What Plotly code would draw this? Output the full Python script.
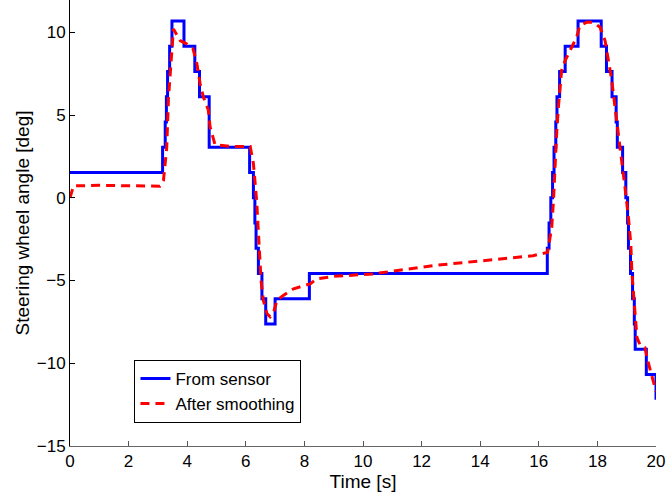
import plotly.graph_objects as go

# Raw steering-wheel sensor signal (quantised steps) -- time [s], angle [deg]
sensor_t = [0.00, 3.16, 3.25, 3.29, 3.33, 3.40, 3.48, 3.89, 4.26, 4.42, 4.75,
            6.13, 6.26, 6.31, 6.35, 6.43, 6.55, 6.68, 7.00, 8.17,
            16.29, 16.35, 16.41, 16.47, 16.52, 16.58, 16.62, 16.71, 16.90, 17.34,
            18.13, 18.31, 18.50, 18.64, 18.68, 18.86, 18.97, 19.03, 19.06, 19.13,
            19.20, 19.26, 19.29, 19.67, 20.00]
sensor_deg = [1.53, 3.05, 4.58, 6.10, 7.63, 9.15, 10.68, 9.15, 7.63, 6.10, 3.05,
              1.53, 0.00, -1.53, -3.05, -4.58, -6.10, -7.63, -6.10, -4.58,
              -3.05, -1.53, 0.00, 1.53, 3.05, 4.58, 6.10, 7.63, 9.15, 10.68,
              9.15, 7.63, 6.10, 4.58, 3.05, 1.53, 0.00, -1.53, -3.05, -4.58,
              -6.10, -7.63, -9.15, -10.68, -12.20]

# Smoothed signal
smooth_t = [0.00, 0.12, 1.00, 2.00, 3.00, 3.07, 3.19, 3.30, 3.36, 3.44, 3.49, 3.53,
            3.76, 3.98, 4.20, 4.33, 4.44, 4.55, 4.72, 4.78, 4.95, 5.50, 6.15,
            6.26, 6.37, 6.45, 6.52, 6.60, 6.72, 6.83, 6.94, 7.06, 7.28, 7.63,
            8.20, 8.42, 9.00, 10.35, 12.40, 14.10, 15.80, 16.30, 16.44, 16.50,
            16.55, 16.61, 16.67, 16.72, 16.78, 16.90, 17.07, 17.29, 17.40, 17.63,
            17.86, 18.09, 18.26, 18.37, 18.49, 18.60, 18.72, 18.83, 18.94, 19.06,
            19.14, 19.18, 19.26, 19.35, 19.47, 19.62, 19.75, 19.86, 19.98, 20.00]
smooth_deg = [0.00, 0.72, 0.75, 0.74, 0.72, 0.70, 1.05, 3.00, 6.00, 7.90, 9.70, 10.20,
              9.50, 9.30, 9.00, 8.10, 6.90, 6.10, 5.30, 4.30, 3.20, 3.10, 3.10,
              2.06, -0.16, -2.50, -5.00, -6.20, -7.00, -7.20, -7.00, -6.20, -5.90, -5.50,
              -5.20, -4.90, -4.75, -4.60, -4.10, -3.80, -3.50, -3.30, -1.80, -0.20,
              1.85, 3.90, 5.50, 6.50, 7.70, 8.30, 8.90, 9.70, 10.40, 10.60,
              10.60, 10.30, 9.50, 8.30, 7.10, 5.50, 3.90, 2.30, 0.64, -1.20,
              -2.80, -4.60, -6.60, -8.45, -8.95, -9.05, -10.06, -10.80, -11.50, -11.70]

x_ticks = [0, 2, 4, 6, 8, 10, 12, 14, 16, 18, 20]
y_ticks = [-15, -10, -5, 0, 5, 10]

FONT = "Liberation Sans, Arial, Helvetica, sans-serif"
TICK_SIZE = 17
TITLE_SIZE = 19

fig = go.Figure()
fig.add_trace(go.Scatter(
    x=sensor_t, y=sensor_deg, mode="lines", name="From sensor",
    line=dict(color="#0000ff", width=3, shape="hv"),
))
fig.add_trace(go.Scatter(
    x=smooth_t, y=smooth_deg, mode="lines", name="After smoothing",
    line=dict(color="#ff0000", width=3, dash="9px,6px"),
))

fig.update_layout(
    width=666, height=500,
    margin=dict(l=70, r=10, t=0, b=54),
    paper_bgcolor="white", plot_bgcolor="white",
    font=dict(family=FONT, size=TICK_SIZE, color="black"),
    showlegend=True,
    legend=dict(
        x=0.11, y=0.193, xanchor="left", yanchor="top",
        bgcolor="white", bordercolor="black", borderwidth=1,
        font=dict(family=FONT, size=TICK_SIZE, color="black"),
        tracegroupgap=0,
    ),
    xaxis=dict(
        range=[0, 20], tickvals=x_ticks, ticks="inside", ticklen=5,
        tickcolor="#555555", showline=True, linecolor="#666666", linewidth=1,
        showgrid=False, zeroline=False,
        tickfont=dict(family=FONT, size=TICK_SIZE, color="black"),
        title=dict(text="Time [s]", font=dict(family=FONT, size=TITLE_SIZE, color="black"),
                   standoff=2),
    ),
    yaxis=dict(
        range=[-15, 11.95], tickvals=y_ticks, ticks="inside", ticklen=5,
        tickcolor="black", showline=True, linecolor="black", linewidth=1,
        showgrid=False, zeroline=False,
        tickfont=dict(family=FONT, size=TICK_SIZE, color="black"),
        title=dict(text="Steering wheel angle [deg]",
                   font=dict(family=FONT, size=TITLE_SIZE, color="black"), standoff=2),
    ),
)

fig.write_html("out.html")
